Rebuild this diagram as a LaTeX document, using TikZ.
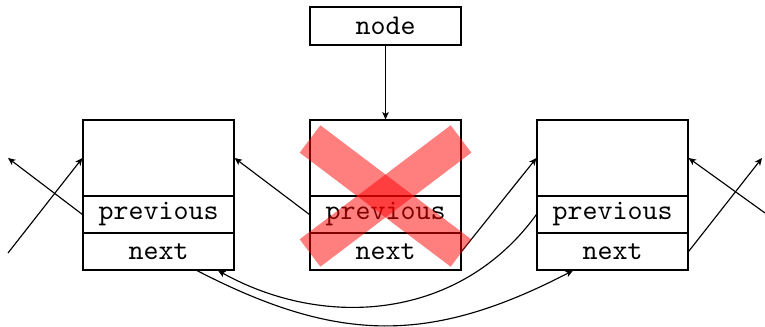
\documentclass[tikz,border=0pt]{standalone}
\usetikzlibrary{calc,arrows.meta}
\begin{document}
\begin{tikzpicture}[x=0.35pt,y=-0.35pt,
  box/.style={draw, minimum width=52.85pt, inner sep=0pt, font=\ttfamily},
  ptrbox/.style={box, minimum height=13.3pt},
  topbox/.style={box, minimum height=26.6pt},
  fieldbox/.style={box, minimum height=12.95pt},
  link/.style={-{Stealth[length=2.6pt,width=2.3pt,inset=0.7pt]}},
  cross/.style={red, opacity=0.5, line width=12pt}]
\useasboundingbox (0,0) rectangle (765,327);
% pointer node
\node[ptrbox] (nd) at (385.5,26) {node};
% left element
\node[topbox] (l) at (158.5,158) {};
\node[fieldbox] (lp) at (158.5,214.5) {previous};
\node[fieldbox] (ln) at (158.5,251.5) {next};
% middle element
\node[topbox] (m) at (385.5,158) {};
\node[fieldbox] (mp) at (385.5,214.5) {previous};
\node[fieldbox] (mn) at (385.5,251.5) {next};
% right element
\node[topbox] (r) at (612.5,158) {};
\node[fieldbox] (rp) at (612.5,214.5) {previous};
\node[fieldbox] (rn) at (612.5,251.5) {next};
% free ends
\coordinate (a1) at (8,253);
\coordinate (a2) at (8,158);
\coordinate (a3) at (762,158);
\coordinate (a4) at (765,213);
% connectors
\draw[link] (nd.south) -- (m.north);
\draw[link] (a1) -- (l.west);
\draw[link] (lp.west) -- (a2);
\draw[link] (mp.west) -- (l.east);
\draw[link] (mn.east) -- (r.west);
\draw[link] (rn.east) -- (a3);
\draw[link] (a4) -- (r.east);
\draw[link] (rp.west) .. controls (460,320) and (325,330) .. ($(ln.south)+(59.5,0)$);
\draw[link] ($(ln.south)+(38.5,0)$) .. controls (339,344) and (431,344) .. ($(rn.south)+(-39.5,0)$);
% red cross
\draw[cross] (310,139) -- (461,253);
\draw[cross] (310,253) -- (461,139);
\end{tikzpicture}
\end{document}
